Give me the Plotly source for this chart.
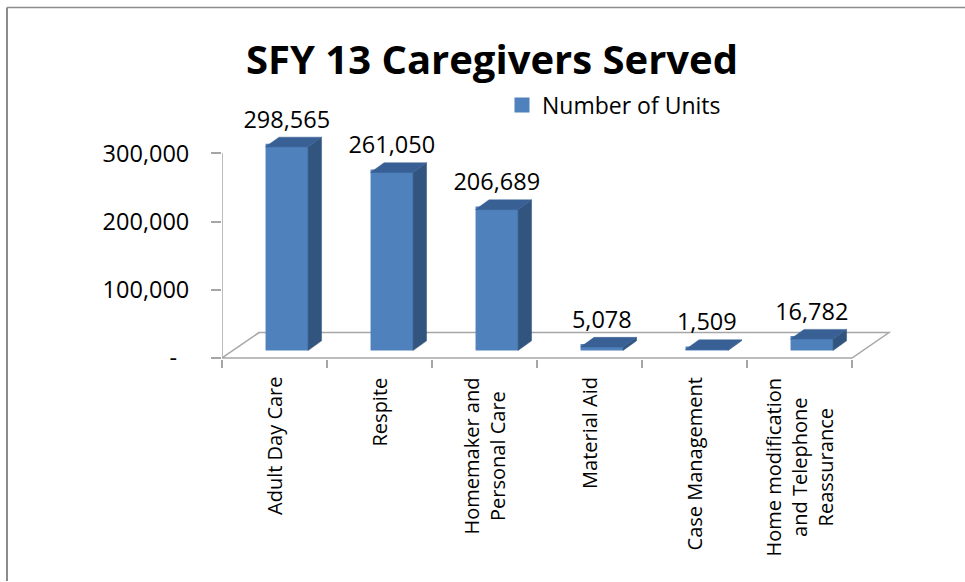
import plotly.graph_objects as go

categories = ["Adult Day Care", "Respite", "Homemaker and<br>Personal Care", "Material Aid",
              "Case Management", "Home modification<br>and Telephone<br>Reassurance"]
units = [298565, 261050, 206689, 5078, 1509, 16782]
y_ticks = [0, 100000, 200000, 300000]
y_tick_labels = ["-\u00a0\u00a0", "100,000", "200,000", "300,000"]
series_name = "Number of Units"
title = "SFY 13 Caregivers Served"

W, H = 965, 582
L, R, T300, B = 222, 852, 153.5, 358.5
PLOT_R, PLOT_T = 905, 70   # plot area is larger than the axis span, to hold the 3-D depth
PLOT_B = B + 1
FONT = "Open Sans"
GREY = "#a6a6a6"
FRONT, SIDE, TOP = "#4f81bd", "#31557f", "#386095"

n = len(categories)
px_x = n / (R - L)
px_y = 300000 / (B - T300)
x_max = (PLOT_R - L) * px_x
y_min = -(PLOT_B - B) * px_y
y_max = (B - PLOT_T) * px_y
stroke = 3                 # bar outline in px (also sets the legend swatch size)
bar_w = (42.5 - stroke) * px_x
shift_x = 12.3 * px_x      # front face shift from the category centre
base = 7.5 * px_y          # front face lifted from the axis floor
depth_x = 13.5 * px_x
depth_y = 9.7 * px_y
floor_x = 37 * px_x
floor_y = 25.5 * px_y
centers = [i + 0.5 + shift_x for i in range(n)]
full_w = 42.5 * px_x

fig = go.Figure()

# front faces
fig.add_trace(go.Bar(
    x=centers, y=units, base=[base + stroke / 2 * px_y] * n, width=bar_w, name=series_name,
    marker=dict(color=FRONT, line=dict(width=stroke, color=FRONT)), showlegend=True))

# side and top faces, built from the values
for c, v in zip(centers, units):
    r = c + full_w / 2
    l = c - full_w / 2
    t = v + base
    fig.add_trace(go.Scatter(
        x=[r, r + depth_x, r + depth_x, r, r],
        y=[base, base + depth_y, t + depth_y, t, base],
        mode="lines", fill="toself", fillcolor=SIDE, line=dict(color=SIDE, width=0.5),
        hoverinfo="skip", showlegend=False))
    fig.add_trace(go.Scatter(
        x=[l, l + depth_x, r + depth_x, r, l],
        y=[t, t + depth_y, t + depth_y, t, t],
        mode="lines", fill="toself", fillcolor=TOP, line=dict(color=TOP, width=0.5),
        hoverinfo="skip", showlegend=False))

# data labels
fig.add_trace(go.Scatter(
    x=centers, y=[v + base + depth_y + 15.5 * px_y for v in units],
    text=[f"{v:,}" for v in units], mode="text", textposition="middle center",
    textfont=dict(family=FONT, size=23.5, color="#000000"),
    hoverinfo="skip", showlegend=False, cliponaxis=False))

paper_x = lambda p: (p - L) / (PLOT_R - L)
paper_y = lambda p: (PLOT_B - p) / (PLOT_B - PLOT_T)

# y axis line and floor of the 3-D box, under the bars
grey_line = dict(color=GREY, width=1.5)
fig.add_shape(type="line", xref="x", yref="y", x0=0, x1=0, y0=0, y1=300000,
              line=grey_line, layer="below")
fig.add_shape(type="path", xref="x", yref="y", layer="below", line=grey_line,
              path=f"M {n},0 L 0,0 L {floor_x},{floor_y} L {n + floor_x},{floor_y} Z")

# category labels
for i, cat in enumerate(categories):
    fig.add_annotation(
        x=i + 0.5, xref="x", y=paper_y(376), yref="paper",
        text=cat, textangle=-90, showarrow=False, align="center",
        xanchor="center", yanchor="top",
        font=dict(family=FONT, size=20, color="#000000"))

# frame: top and left edges only
fig.add_shape(type="line", xref="paper", yref="paper", x0=paper_x(7), x1=paper_x(W),
              y0=paper_y(7.5), y1=paper_y(7.5), line=dict(color="#8c8c8c", width=1.5))
fig.add_shape(type="line", xref="paper", yref="paper", x0=paper_x(7), x1=paper_x(7),
              y0=paper_y(7.5), y1=paper_y(H), line=dict(color="#8c8c8c", width=2))

fig.update_layout(
    width=W, height=H, autosize=False,
    margin=dict(l=L, r=W - PLOT_R, t=PLOT_T, b=H - PLOT_B),
    paper_bgcolor="white", plot_bgcolor="rgba(0,0,0,0)",
    font=dict(family=FONT, color="#000000"),
    title=dict(text=f"<b>{title}</b>", x=492 / W, xanchor="center",
               y=1 - 60 / H, yanchor="middle", font=dict(family=FONT, size=40, color="#000000")),
    showlegend=True,
    legend=dict(x=paper_x(502), xanchor="left", y=paper_y(105), yanchor="middle",
                bgcolor="rgba(0,0,0,0)", font=dict(family=FONT, size=23, color="#000000"),
                itemwidth=30),
    xaxis=dict(range=[0, x_max], tickvals=list(range(n + 1)), ticktext=[""] * (n + 1),
               showgrid=False, zeroline=False, showline=False,
               ticks="outside", ticklen=8, tickcolor=GREY, tickwidth=1.5),
    yaxis=dict(range=[y_min, y_max], tickvals=y_ticks, ticktext=y_tick_labels,
               showgrid=False, zeroline=False, showline=False,
               ticks="outside", ticklen=10, tickcolor=GREY, tickwidth=1.5,
               ticklabelstandoff=17, tickfont=dict(family=FONT, size=23.5, color="#000000")),
)

fig.write_html("out.html", post_script="document.body.style.margin='0';",
               config={"displayModeBar": False})
